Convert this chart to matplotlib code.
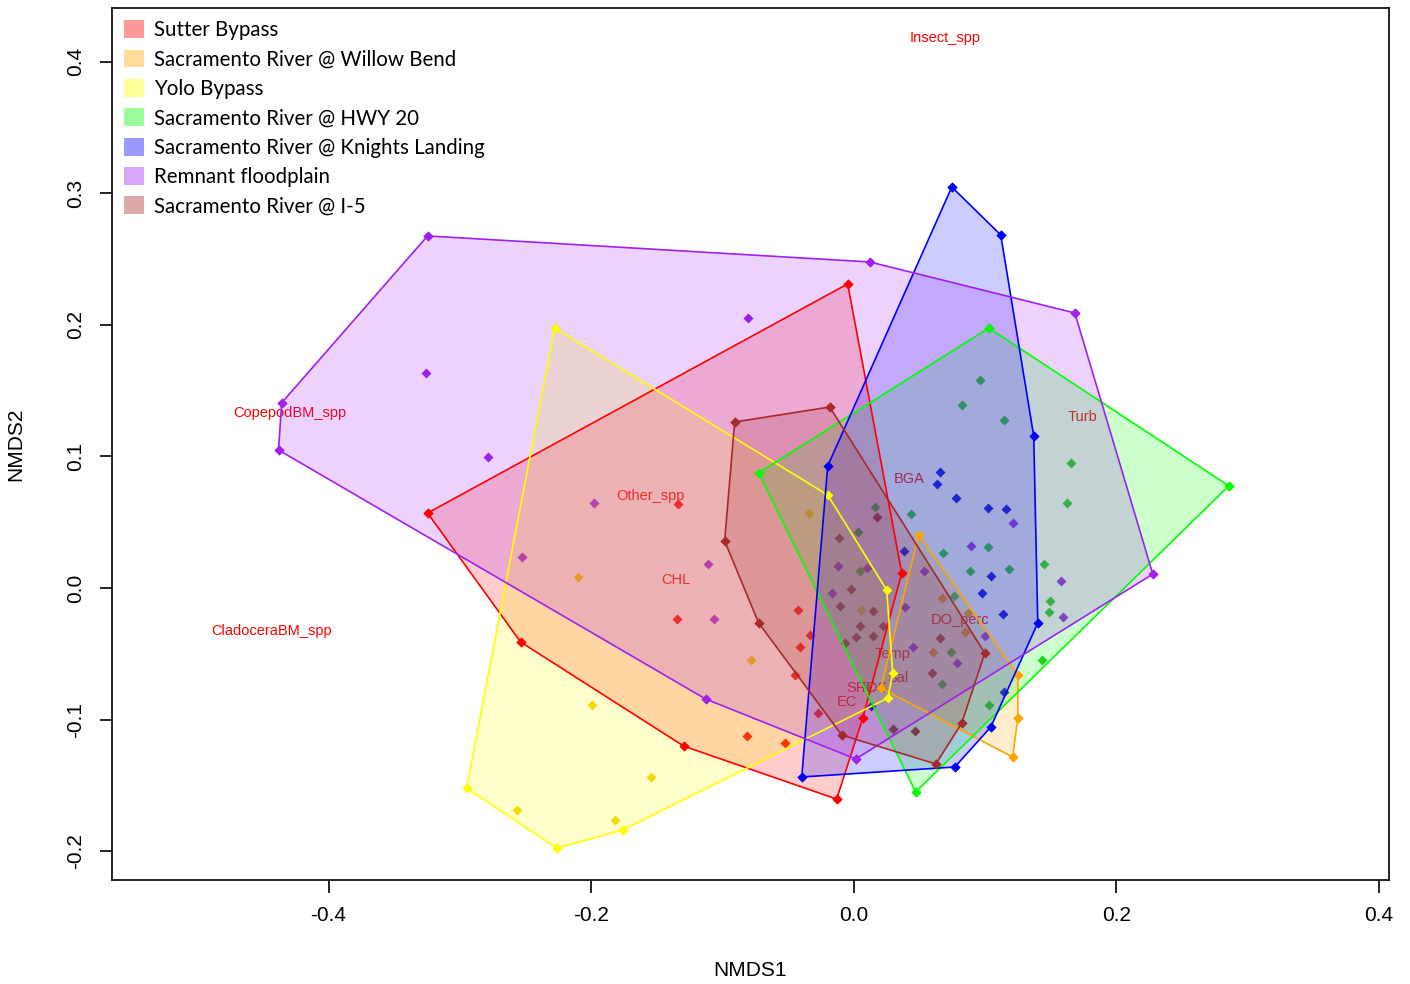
import numpy as np
import matplotlib
matplotlib.use("Agg")
import matplotlib.pyplot as plt
from matplotlib.patches import Patch, Polygon

plt.rcParams['axes.unicode_minus'] = False

# NMDS site scores, grouped by site
sites = ["Sutter Bypass", "Sacramento River @ Willow Bend", "Yolo Bypass",
         "Sacramento River @ HWY 20", "Sacramento River @ Knights Landing",
         "Remnant floodplain", "Sacramento River @ I-5"]
site_colors = ["#FF0000", "#FFA500", "#FFFF00", "#00FF00", "#0000FF", "#A020F0", "#A52A2A"]
point_colors = ["#FF0000", "#FF9900", "#F2D200", "#22CC22", "#0000EE", "#9A20F0", "#A52A2A"]

sutter_x = [-0.0046, 0.0366, 0.0069, -0.0130, -0.1295, -0.2537, -0.3246, -0.1341, -0.1349,
            -0.0427, -0.0335, -0.0411, -0.0450, -0.0815, -0.0526, -0.0274]
sutter_y = [0.2312, 0.0114, -0.0989, -0.1605, -0.1202, -0.0411, 0.0570, 0.0639, -0.0236,
            -0.0167, -0.0357, -0.0449, -0.0662, -0.1125, -0.1179, -0.0951]

willow_x = [0.0495, 0.1250, 0.1250, 0.1211, 0.0206, 0.0670, 0.0869, 0.0846, 0.0602]
willow_y = [0.0403, -0.0662, -0.0989, -0.1285, -0.0760, -0.0076, -0.0190, -0.0335, -0.0487]

yolo_x = [-0.2278, -0.0198, 0.0251, 0.0297, 0.0259, -0.1760, -0.2263, -0.2949, -0.0343,
          -0.2103, -0.0785, -0.1996, -0.1547, -0.2568, -0.1821, 0.0053]
yolo_y = [0.1977, 0.0707, -0.0015, -0.0646, -0.0837, -0.1840, -0.1977, -0.1521, 0.0570,
          0.0084, -0.0548, -0.0890, -0.1437, -0.1688, -0.1764, -0.0167]

hwy20_x = [-0.0724, 0.1029, 0.2857, 0.0472, 0.0960, 0.0823, 0.1143, 0.1653, 0.1623, 0.1448,
           0.1021, 0.0884, 0.1181, 0.1493, 0.1486, 0.1432, 0.0160, 0.0434, 0.0030, 0.0678,
           0.0046, 0.0762, 0.0739, 0.0670, 0.1029]
hwy20_y = [0.0875, 0.1977, 0.0776, -0.1551, 0.1582, 0.1392, 0.1278, 0.0951, 0.0646, 0.0183,
           0.0312, 0.0129, 0.0144, -0.0099, -0.0183, -0.0548, 0.0616, 0.0563, 0.0426, 0.0266,
           0.0129, -0.0061, -0.0487, -0.0730, -0.0890]

knights_x = [0.0747, 0.1120, 0.1371, 0.1402, 0.1143, 0.1044, 0.0770, -0.0396, -0.0198,
             0.0655, 0.0632, 0.0777, 0.1021, 0.1158, 0.0381, 0.1044, 0.0975, 0.1135, 0.0130]
knights_y = [0.3049, 0.2684, 0.1156, -0.0266, -0.0791, -0.1057, -0.1361, -0.1437, 0.0928,
             0.0882, 0.0791, 0.0684, 0.0608, 0.0601, 0.0281, 0.0091, -0.0038, -0.0198, -0.0897]

remnant_x = [-0.3246, 0.0122, 0.1684, 0.2278, 0.0015, -0.1128, -0.4381, -0.4358, -0.3261,
             -0.0808, -0.2789, -0.1981, -0.2530, -0.1112, -0.1067, 0.1211, 0.0891, 0.0998,
             0.0785, 0.0533, 0.0450, 0.0389, -0.0168, -0.0122, 0.0099, 0.1577, 0.1592]
remnant_y = [0.2677, 0.2479, 0.2091, 0.0106, -0.1300, -0.0844, 0.1049, 0.1407, 0.1635,
             0.2053, 0.0996, 0.0646, 0.0236, 0.0183, -0.0236, 0.0494, 0.0319, -0.0365,
             -0.0570, 0.0129, -0.0449, -0.0144, -0.0038, 0.0167, 0.0152, 0.0053, -0.0221]

i5_x = [-0.0907, -0.0183, 0.0998, 0.0823, 0.0625, -0.0091, -0.0724, -0.0983, 0.0175, -0.0114,
        -0.0107, 0.0145, 0.0046, 0.0221, 0.0015, 0.0145, -0.0069, 0.0655, 0.0594, 0.0297,
        0.0465, -0.0023]
i5_y = [0.1262, 0.1376, -0.0494, -0.1027, -0.1338, -0.1118, -0.0266, 0.0357, 0.0540, 0.0380,
        -0.0137, -0.0175, -0.0289, -0.0289, -0.0373, -0.0365, -0.0418, -0.0380, -0.0646, -0.1072,
        -0.1087, -0.0008]

site_x = [sutter_x, willow_x, yolo_x, hwy20_x, knights_x, remnant_x, i5_x]
site_y = [sutter_y, willow_y, yolo_y, hwy20_y, knights_y, remnant_y, i5_y]

# fitted variable labels
var_names = ["Insect_spp", "CopepodBM_spp", "CladoceraBM_spp", "Other_spp", "CHL", "BGA",
             "Turb", "DO_perc", "Temp", "Sal", "SPC", "TDS", "EC"]
var_x = [0.0693, -0.4297, -0.4434, -0.1547, -0.1356, 0.0419, 0.1745, 0.0808, 0.0297, 0.0335,
         0.0061, 0.0152, -0.0053]
var_y = [0.4183, 0.1331, -0.0327, 0.0700, 0.0061, 0.0829, 0.1300, -0.0243, -0.0502, -0.0684,
         -0.0760, -0.0760, -0.0867]


def convex_hull(pts):
    pts = sorted(set(pts))
    def cross(o, a, b):
        return (a[0] - o[0]) * (b[1] - o[1]) - (a[1] - o[1]) * (b[0] - o[0])
    lower, upper = [], []
    for p in pts:
        while len(lower) >= 2 and cross(lower[-2], lower[-1], p) <= 0:
            lower.pop()
        lower.append(p)
    for p in reversed(pts):
        while len(upper) >= 2 and cross(upper[-2], upper[-1], p) <= 0:
            upper.pop()
        upper.append(p)
    return lower[:-1] + upper[:-1]


fig = plt.figure(figsize=(14.1, 9.84), dpi=100)
ax = fig.add_axes([0.0794, 0.1057, 0.9056, 0.8862])

for xs, ys, c in zip(site_x, site_y, point_colors):
    ax.plot(xs, ys, linestyle='none', marker='D', ms=4.8, color=c, mec='none', zorder=1)

for name, x, y in zip(var_names, var_x, var_y):
    ax.text(x, y, name, color='red', fontsize=10.5, family='Liberation Sans',
            ha='center', va='center', zorder=1)

for xs, ys, c in zip(site_x, site_y, site_colors):
    hull = convex_hull(list(zip(xs, ys)))
    ax.add_patch(Polygon(hull, closed=True, facecolor=c, alpha=0.2, edgecolor='none', zorder=2))
    ax.add_patch(Polygon(hull, closed=True, facecolor='none', edgecolor=c, lw=1.2, zorder=3))
    hx, hy = zip(*hull)
    ax.plot(hx, hy, linestyle='none', marker='D', ms=4.8, color=c, mec='none', zorder=3)

ax.set_xlim(-0.565, 0.4076)
ax.set_ylim(-0.222, 0.441)
ax.set_xticks([-0.4, -0.2, 0.0, 0.2, 0.4])
ax.set_xticklabels(["-0.4", "-0.2", "0.0", "0.2", "0.4"])
ax.set_yticks([-0.2, -0.1, 0.0, 0.1, 0.2, 0.3, 0.4])
ax.set_yticklabels(["-0.2", "-0.1", "0.0", "0.1", "0.2", "0.3", "0.4"], rotation=90, va='center')
ax.tick_params(labelsize=15, length=9, width=1.2, pad=10)
for lab in ax.get_xticklabels() + ax.get_yticklabels():
    lab.set_family('Liberation Sans')
for s in ax.spines.values():
    s.set_linewidth(1.2)
ax.set_xlabel("NMDS1", fontsize=15, family='Liberation Sans', labelpad=26)
ax.set_ylabel("NMDS2", fontsize=15, family='Liberation Sans', labelpad=30)

handles = [Patch(facecolor=c, alpha=0.4, edgecolor='none') for c in site_colors]
ax.legend(handles, sites, loc='upper left', bbox_to_anchor=(0.0, 1.0), frameon=False,
          prop={'family': 'Lato', 'size': 14.8}, handlelength=0.95, handleheight=0.95,
          handletextpad=0.5, labelspacing=0.455, borderaxespad=0.0, borderpad=0.6)

fig.savefig("out.png", dpi=100)
